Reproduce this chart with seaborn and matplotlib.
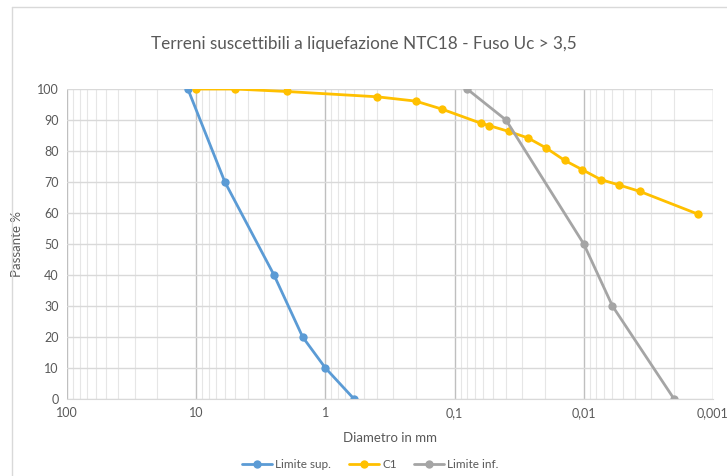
import matplotlib.pyplot as plt
import matplotlib.ticker as mticker
from matplotlib.lines import Line2D
import pandas as pd
import seaborn as sns

# Dati (diametro in mm, passante %)
sup_d = [11.6, 6.0, 2.5, 1.5, 1.0, 0.6]
sup_p = [100, 70, 40, 20, 10, 0]

c1_d = [10, 5, 2, 0.4, 0.2, 0.125, 0.063, 0.054, 0.038, 0.027, 0.0196,
        0.0141, 0.0103, 0.0074, 0.0053, 0.0037, 0.0013]
c1_p = [100, 100, 99.2, 97.5, 96.1, 93.5, 89, 88.2, 86.3, 84.2, 81,
        77, 74, 70.8, 69, 67, 59.6]

inf_d = [0.08, 0.04, 0.01, 0.006, 0.002]
inf_p = [100, 90, 50, 30, 0]

xtick_vals = [100, 10, 1, 0.1, 0.01, 0.001]
xtick_labels = ['100', '10', '1', '0,1', '0,01', '0,001']

sup = pd.DataFrame({'d': sup_d, 'p': sup_p})
c1 = pd.DataFrame({'d': c1_d, 'p': c1_p})
inf = pd.DataFrame({'d': inf_d, 'p': inf_p})

sns.set_style('white')
plt.rcParams['font.family'] = ['Lato', 'DejaVu Sans']
grigio = '#595959'

fig = plt.figure(figsize=(7.27, 4.76), dpi=100)
ax = fig.add_axes([0.0922, 0.1618, 0.8885, 0.6512])

# bordo dell'area del grafico (in alto e a sinistra)
fig.add_artist(Line2D([12 / 727, 12 / 727], [0, 1 - 7 / 476], color='#D9D9D9', linewidth=1))
fig.add_artist(Line2D([12 / 727, 1], [1 - 7 / 476, 1 - 7 / 476], color='#D9D9D9', linewidth=1))

sns.lineplot(data=sup, x='d', y='p', ax=ax, sort=False, color='#5B9BD5', marker='o',
             markersize=6, markeredgewidth=0, linewidth=2, label='Limite sup.')
sns.lineplot(data=c1, x='d', y='p', ax=ax, sort=False, color='#FFC000', marker='o',
             markersize=6, markeredgewidth=0, linewidth=2, label='C1')
sns.lineplot(data=inf, x='d', y='p', ax=ax, sort=False, color='#A5A5A5', marker='o',
             markersize=6, markeredgewidth=0, linewidth=2, label='Limite inf.')

ax.set_xscale('log')
ax.set_xlim(100, 0.001)
ax.set_ylim(0, 100)
ax.set_yticks(range(0, 101, 10))
ax.xaxis.set_major_locator(mticker.FixedLocator(xtick_vals))
ax.xaxis.set_major_formatter(mticker.FixedFormatter(xtick_labels))
ax.xaxis.set_minor_locator(mticker.LogLocator(base=10, subs=range(2, 10), numticks=20))
ax.xaxis.set_minor_formatter(mticker.NullFormatter())

ax.grid(which='major', axis='x', color='#BFBFBF', linewidth=1)
ax.grid(which='minor', axis='x', color='#E6E6E6', linewidth=0.8)
ax.grid(which='major', axis='y', color='#D9D9D9', linewidth=1)
ax.set_axisbelow(True)

for s in ['top', 'right', 'left']:
    ax.spines[s].set_visible(False)
ax.spines['bottom'].set_color('#D9D9D9')
ax.tick_params(axis='both', length=0, labelsize=9, colors=grigio, pad=6)

ax.set_xlabel('Diametro in mm', fontsize=9.5, color=grigio, labelpad=9)
ax.set_ylabel('Passante %', fontsize=9.5, color=grigio, labelpad=10)
fig.suptitle('Terreni suscettibili a liquefazione NTC18 - Fuso Uc > 3,5',
             x=0.5, y=0.925, fontsize=12.3, color=grigio)

ax.legend(loc='upper center', bbox_to_anchor=(0.47, -0.16), ncol=3, frameon=False,
          fontsize=8.5, labelcolor=grigio, handlelength=2.5, columnspacing=1.5, handletextpad=0.3)

fig.savefig('out.png', dpi=100)
